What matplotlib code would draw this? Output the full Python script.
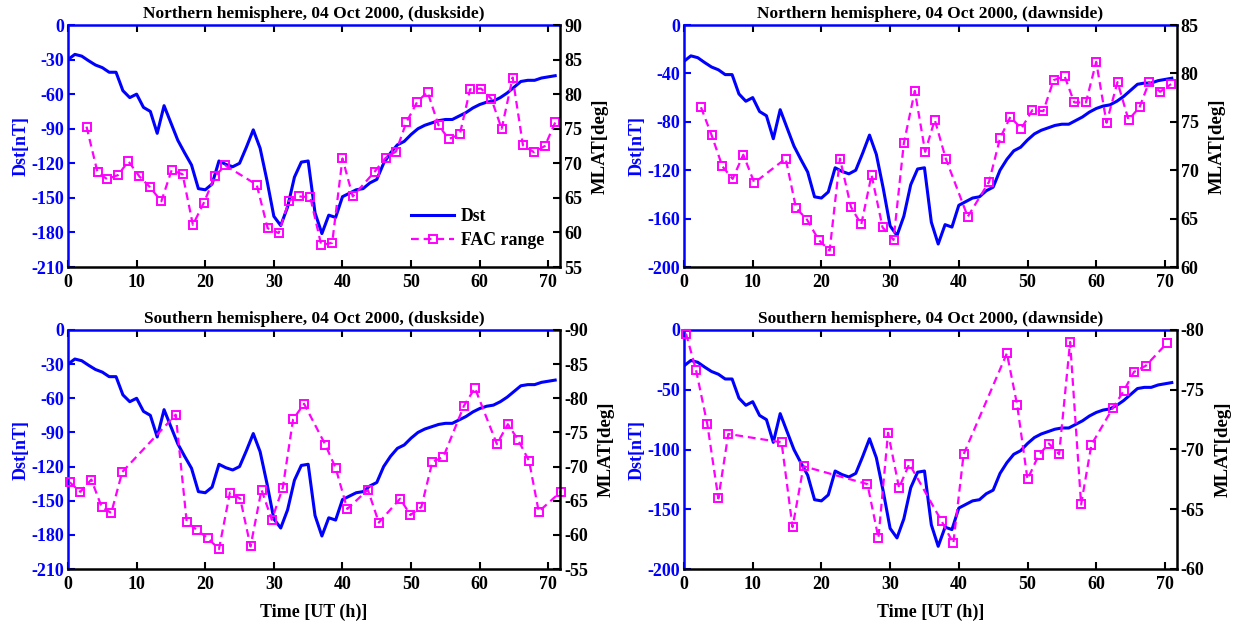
import matplotlib
matplotlib.use("Agg")
import matplotlib.pyplot as plt

plt.rcParams['font.family'] = ['Liberation Serif', 'DejaVu Serif']
plt.rcParams['font.weight'] = 'bold'
plt.rcParams['axes.unicode_minus'] = False

# ---------------- data ----------------
hours = list(range(72))
dst = [-30, -25.5, -27, -31, -34.7, -37, -41, -41, -57, -63, -60, -71.5, -75, -94, -70, -85,
       -100, -111, -121.5, -142, -143, -138, -118, -121, -123, -120, -106, -91, -107, -135,
       -166, -174, -158, -132, -119, -118, -163, -181, -165, -167, -149, -146, -143, -142,
       -137, -134, -120, -111, -104, -101, -95, -90, -87, -85, -83, -82, -82, -79, -76, -72,
       -69, -67, -66, -63, -59, -54, -49, -48, -48, -46, -45, -44]

nd_t = [2.7, 4.3, 5.7, 7.3, 8.8, 10.4, 11.9, 13.6, 15.1, 16.7, 18.2, 19.8, 21.4, 22.9, 27.5,
        29.1, 30.7, 32.2, 33.7, 35.3, 36.9, 38.5, 40.0, 41.5, 44.7, 46.3, 47.8, 49.3, 50.9,
        52.4, 54.0, 55.5, 57.1, 58.6, 60.2, 61.7, 63.2, 64.8, 66.3, 67.9, 69.5, 71.0]
nd_m = [75.3, 68.7, 67.7, 68.3, 70.3, 68.1, 66.6, 64.5, 69.0, 68.4, 61.1, 64.3, 68.1, 69.7,
        66.9, 60.6, 59.9, 64.6, 65.2, 65.1, 58.2, 58.5, 70.7, 65.2, 68.8, 70.8, 71.7, 75.9,
        78.9, 80.3, 75.5, 73.5, 74.2, 80.7, 80.8, 79.3, 75.0, 82.4, 72.6, 71.6, 72.5, 75.9]

nw_t = [2.47, 4.03, 5.58, 7.08, 8.63, 10.24, 14.8, 16.3, 17.9, 19.6, 21.2, 22.7, 24.3, 25.8,
        27.3, 28.9, 30.5, 32.0, 33.6, 35.1, 36.5, 38.1, 41.3, 44.4, 46.0, 47.5, 49.1, 50.7,
        52.3, 53.8, 55.4, 56.8, 58.5, 60.0, 61.5, 63.1, 64.7, 66.3, 67.7, 69.3, 70.9]
nw_m = [76.5, 73.6, 70.4, 69.1, 71.6, 68.7, 71.2, 66.1, 64.9, 62.8, 61.7, 71.2, 66.2, 64.4,
        69.5, 64.1, 62.8, 72.8, 78.2, 71.9, 75.2, 71.2, 65.2, 68.8, 73.3, 75.5, 74.3, 76.2,
        76.1, 79.3, 79.7, 77.0, 77.0, 81.2, 74.9, 79.1, 75.2, 76.5, 79.1, 78.1, 78.9]

sd_t = [0.25, 1.8, 3.4, 4.9, 6.3, 7.9, 15.7, 17.3, 18.8, 20.4, 22.0, 23.6, 25.1, 26.6, 28.2,
        29.7, 31.3, 32.8, 34.4, 37.5, 39.0, 40.7, 43.7, 45.3, 48.4, 49.9, 51.5, 53.1, 54.7,
        57.7, 59.3, 62.5, 64.1, 65.6, 67.2, 68.6, 71.8]
sd_m = [-67.7, -66.3, -68.1, -64.1, -63.2, -69.2, -77.6, -61.9, -60.7, -59.5, -57.9, -66.2,
        -65.3, -58.3, -66.6, -62.2, -66.9, -76.9, -79.2, -73.2, -69.8, -63.8, -66.6, -61.8,
        -65.3, -62.9, -64.1, -70.7, -71.4, -78.9, -81.5, -73.3, -76.2, -73.9, -70.8, -63.4,
        -66.3]

sw_t = [0.29, 1.75, 3.4, 5.0, 6.45, 14.2, 15.8, 17.4, 26.7, 28.3, 29.7, 31.3, 32.8, 37.5,
        39.2, 40.7, 47.0, 48.5, 50.0, 51.6, 53.1, 54.6, 56.2, 57.8, 59.3, 62.4, 64.0, 65.5,
        67.2, 70.3]
sw_m = [-79.7, -76.65, -72.1, -65.9, -71.3, -70.6, -63.5, -68.6, -67.1, -62.6, -71.4, -66.8,
        -68.8, -64.0, -62.15, -69.6, -78.05, -73.7, -67.5, -69.5, -70.5, -69.6, -79.0, -65.4,
        -70.4, -73.45, -74.9, -76.5, -77.0, -78.9]

titles = ["Northern hemisphere, 04 Oct 2000, (duskside)",
          "Northern hemisphere, 04 Oct 2000, (dawnside)",
          "Southern hemisphere, 04 Oct 2000, (duskside)",
          "Southern hemisphere, 04 Oct 2000, (dawnside)"]
x_ticks = [0, 10, 20, 30, 40, 50, 60, 70]
dst_ticks = [[0, -30, -60, -90, -120, -150, -180, -210],
             [0, -40, -80, -120, -160, -200],
             [0, -30, -60, -90, -120, -150, -180, -210],
             [0, -50, -100, -150, -200]]
mlat_ticks = [[55, 60, 65, 70, 75, 80, 85, 90],
              [60, 65, 70, 75, 80, 85],
              [-55, -60, -65, -70, -75, -80, -85, -90],
              [-60, -65, -70, -75, -80]]
dst_lims = [(-210, 0), (-200, 0), (-210, 0), (-200, 0)]
mlat_lims = [(55, 90), (60, 85), (-55, -90), (-60, -80)]
fac_t = [nd_t, nw_t, sd_t, sw_t]
fac_m = [nd_m, nw_m, sd_m, sw_m]

BLUE = '#0000FF'
MAG = '#FF00FF'

W, H = 1236, 629
fig = plt.figure(figsize=(W / 100, H / 100), dpi=100)

boxes = [(68, 25, 560, 267), (684, 25, 1176.6, 267),
         (68, 330, 560, 569), (684, 330, 1176.6, 569)]

TS = 13
for i, (x0, y0, x1, y1) in enumerate(boxes):
    ax = fig.add_axes([x0 / W, 1 - y1 / H, (x1 - x0) / W, (y1 - y0) / H])
    ax2 = ax.twinx()
    ax.set_zorder(1)
    ax2.set_zorder(2)
    ax2.patch.set_visible(False)

    l1, = ax.plot(hours, dst, color=BLUE, lw=2.2, label='Dst')
    l2, = ax2.plot(fac_t[i], fac_m[i], color=MAG, lw=1.6, ls=(0, (3.5, 2.2)),
                   marker='s', ms=6.3, mfc='none', mec=MAG, mew=1.4, clip_on=False,
                   label='FAC range')

    ax.set_xlim(0, 71.7)
    ax.set_ylim(*dst_lims[i])
    ax2.set_ylim(*mlat_lims[i])
    ax.set_xticks(x_ticks)
    ax.set_yticks(dst_ticks[i])
    ax2.set_yticks(mlat_ticks[i])

    for s in ['left', 'top']:
        ax.spines[s].set_color(BLUE)
    ax.spines['bottom'].set_color('black')
    ax.spines['right'].set_visible(False)
    for s in ['left', 'top', 'bottom']:
        ax2.spines[s].set_visible(False)
    ax2.spines['right'].set_color('black')
    for sp in list(ax.spines.values()) + list(ax2.spines.values()):
        sp.set_linewidth(1.8)

    ax.tick_params(axis='x', direction='in', top=True, length=5, width=1.5,
                   labelsize=TS, colors='black', pad=5)
    for t in ax.xaxis.get_major_ticks():
        t.tick2line.set_color(BLUE)
    ax.tick_params(axis='y', direction='in', length=5, width=1.5, labelsize=TS,
                   colors=BLUE, pad=3)
    ax2.tick_params(axis='y', direction='in', length=5, width=1.5, labelsize=TS,
                    colors='black', pad=3)
    for lab in ax.get_xticklabels() + ax.get_yticklabels() + ax2.get_yticklabels():
        lab.set_fontweight('bold')

    ax.set_ylabel('Dst[nT]', color=BLUE, fontsize=13, fontweight='bold', labelpad=1)
    ax2.set_ylabel('MLAT[deg]', color='black', fontsize=13.5, fontweight='bold',
                   labelpad=7, rotation=90)
    ax.set_title(titles[i], fontsize=12.5, fontweight='bold', pad=5)

    if i >= 2:
        ax.set_xlabel('Time [UT (h)]', fontsize=13, fontweight='bold', labelpad=8)

    if i == 0:
        ax2.legend(handles=[l1, l2], loc='lower right', bbox_to_anchor=(0.99, 0.03),
                   frameon=False, fontsize=12.8, handlelength=2.4, handletextpad=0.4,
                   labelspacing=0.4, borderaxespad=0.2)

fig.savefig('out.png', dpi=100)
